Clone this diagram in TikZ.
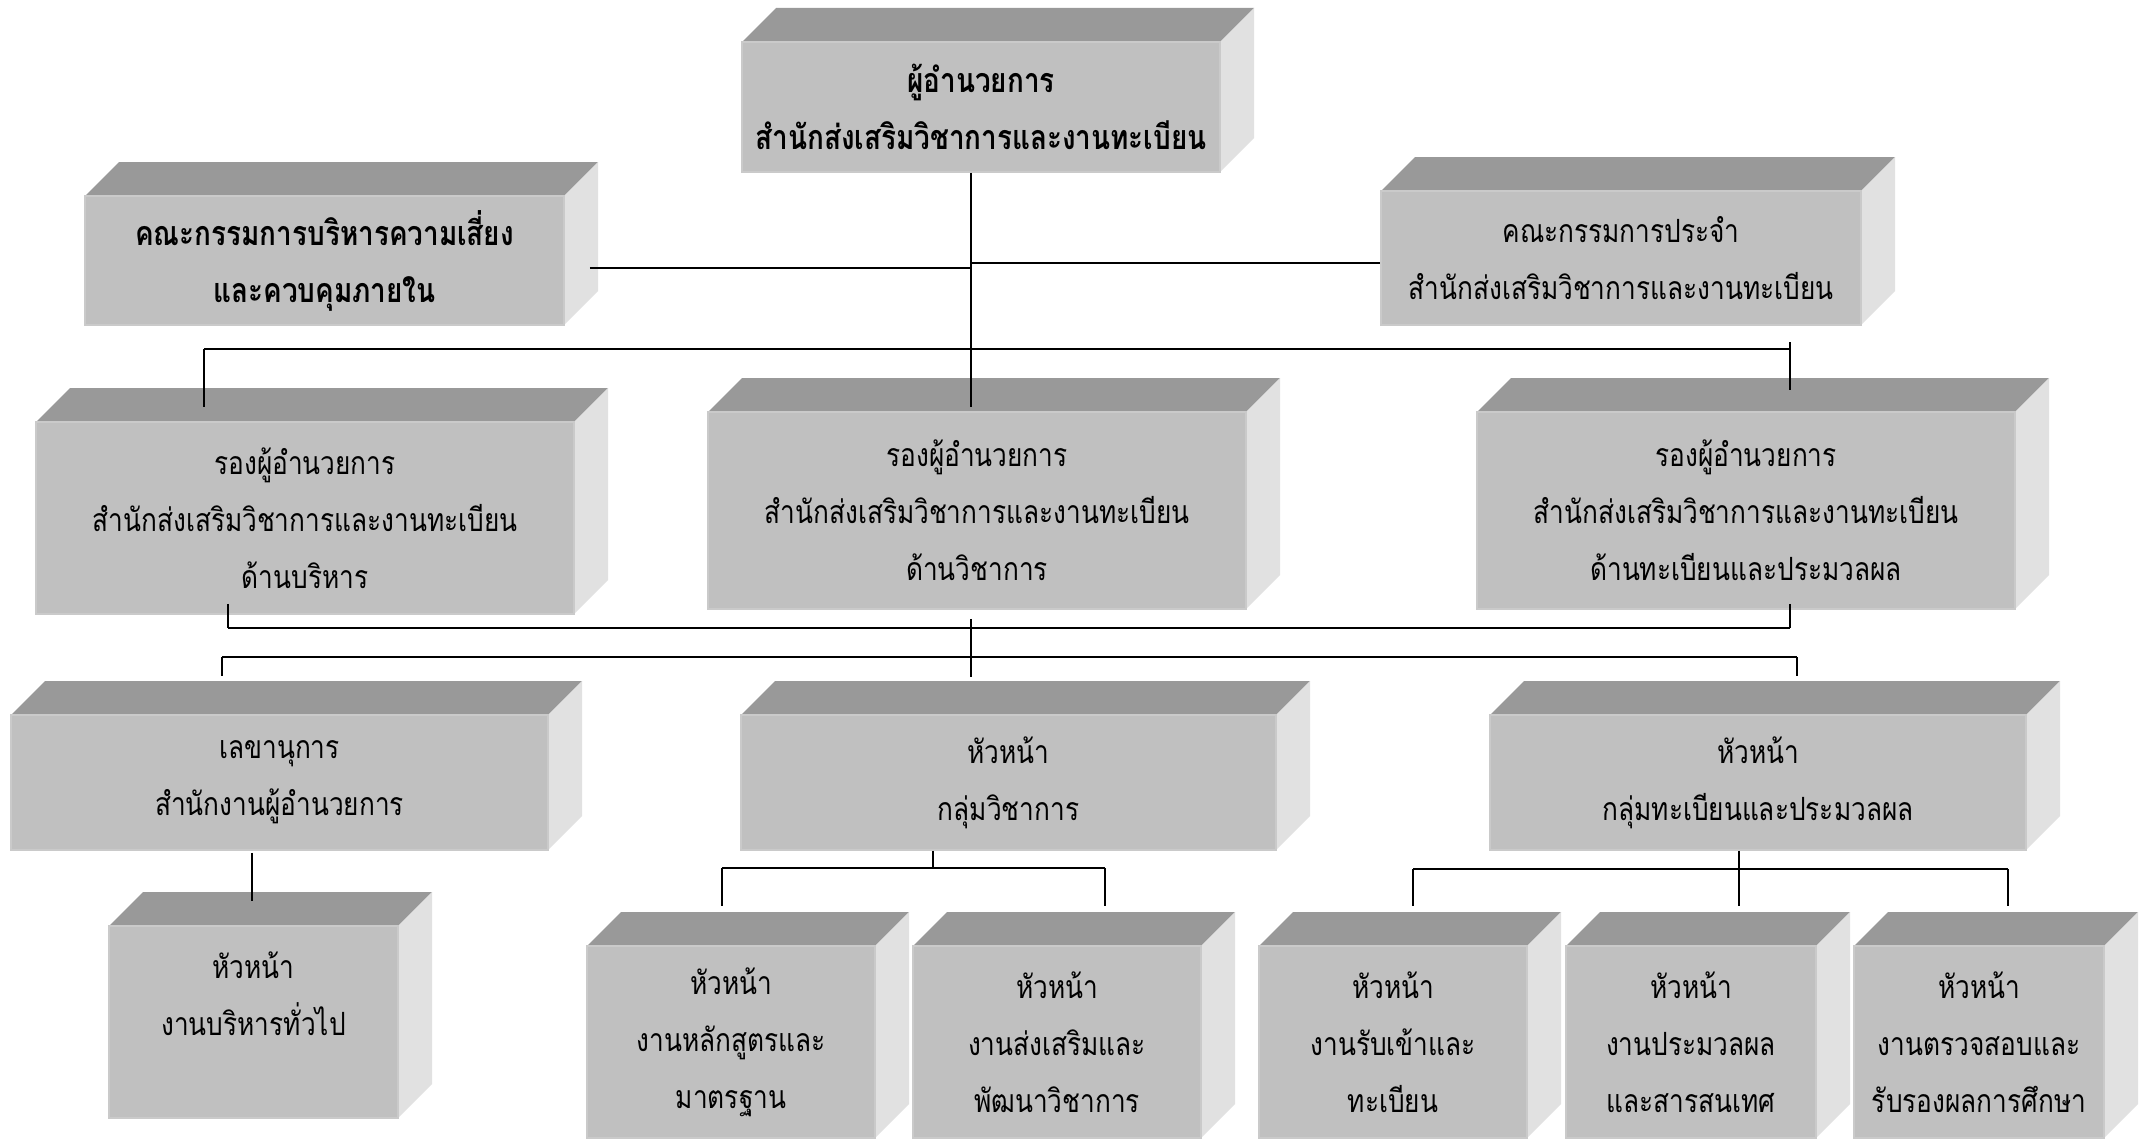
\documentclass[tikz,border=0pt]{standalone}
\usepackage{fontspec}
\newfontfamily\thai[Script=Thai,FakeStretch=0.82]{Loma}
\usetikzlibrary{calc}
\definecolor{topc}{HTML}{999999}
\definecolor{frontc}{HTML}{C0C0C0}
\definecolor{sidec}{HTML}{E1E1E1}
\definecolor{rimc}{HTML}{CACACA}
\newcommand\bd{\bfseries\fontsize{34}{57}\selectfont}
\tikzset{
  frontbox/.style={fill=frontc, draw=rimc, line width=1.5pt, inner sep=0pt, align=center,
    font=\thai\fontsize{32}{57}\selectfont},
  hline/.style={line width=2.6pt, black},
  vline/.style={line width=1.4pt, black},
}
\newcommand\cube[6]{%
  \fill[topc] (#2,#3) -- (#2+34,#3-34) -- (#4+34,#3-34) -- (#4,#3) -- cycle;
  \fill[sidec] (#4,#3) -- (#4+34,#3-34) -- (#4+34,#5-34) -- (#4,#5) -- cycle;
  \node[frontbox, minimum width={#4-#2}, minimum height={#5-#3}] (#1) at ({(#2+#4)/2},{(#3+#5)/2}) {#6};
}
\begin{document}
\begin{tikzpicture}[x=1pt,y=-1pt]
\useasboundingbox (0,0) rectangle (2139,1140);
\fill[white] (0,0) rectangle (2139,1140);
% boxes
\cube{dir}{742}{42}{1220}{172}{\bd ผู้อำนวยการ\\\bd สำนักส่งเสริมวิชาการและงานทะเบียน}
\cube{risk}{85}{196}{564}{325}{\bd คณะกรรมการบริหารความเสี่ยง\\\bd และควบคุมภายใน}
\cube{comm}{1381}{191}{1861}{325}{คณะกรรมการประจำ\\สำนักส่งเสริมวิชาการและงานทะเบียน}
\cube{dl}{36}{422}{574}{614}{รองผู้อำนวยการ\\สำนักส่งเสริมวิชาการและงานทะเบียน\\ด้านบริหาร}
\cube{dm}{708}{412}{1246}{609}{รองผู้อำนวยการ\\สำนักส่งเสริมวิชาการและงานทะเบียน\\ด้านวิชาการ}
\cube{dr}{1477}{412}{2015}{609}{รองผู้อำนวยการ\\สำนักส่งเสริมวิชาการและงานทะเบียน\\ด้านทะเบียนและประมวลผล}
\cube{sec}{11}{715}{548}{850}{เลขานุการ\\สำนักงานผู้อำนวยการ}
\cube{ha}{741}{715}{1276}{850}{หัวหน้า\\กลุ่มวิชาการ}
\cube{hr}{1490}{715}{2026}{850}{หัวหน้า\\กลุ่มทะเบียนและประมวลผล}
\cube{ga}{109}{926}{398}{1118}{หัวหน้า\\งานบริหารทั่วไป\\\mbox{}}
\cube{cur}{587}{946}{875}{1138}{หัวหน้า\\งานหลักสูตรและ\\มาตรฐาน}
\cube{pro}{913}{946}{1201}{1138}{หัวหน้า\\งานส่งเสริมและ\\พัฒนาวิชาการ}
\cube{adm}{1259}{946}{1527}{1138}{หัวหน้า\\งานรับเข้าและ\\ทะเบียน}
\cube{eva}{1566}{946}{1816}{1138}{หัวหน้า\\งานประมวลผล\\และสารสนเทศ}
\cube{ver}{1854}{946}{2104}{1138}{หัวหน้า\\งานตรวจสอบและ\\รับรองผลการศึกษา}
% junction coordinates
\coordinate (sp) at (971,0);
\coordinate (jr) at (971,268);
\coordinate (jc) at (971,263);
\coordinate (busA) at (971,349);
\coordinate (xL) at (204,0);
\coordinate (xR) at (1790,0);
\coordinate (busB) at (971,628);
\coordinate (xB1) at (228,0);
\coordinate (busC) at (971,657);
\coordinate (xC1) at (222,0);
\coordinate (xC2) at (1797,0);
\coordinate (xS) at (252,0);
\coordinate (xA) at (933,0);
\coordinate (busD) at (933,868);
\coordinate (xR0) at (1739,0);
\coordinate (busE) at (1739,869);
% connectors
\draw[vline] (dir.south -| sp) -- ($(dm.north -| sp)+(0,-4)$);
\draw[hline] ($(risk.east |- jr)+(25,0)$) -- (jr);
\draw[hline] (jc) -- (comm.west |- jc);
\draw[hline] (busA -| xL) -- (busA -| xR);
\draw[vline] (busA -| xL) -- ($(dl.north -| xL)+(0,-14)$);
\draw[vline] ($(busA -| xR)+(0,-7)$) -- ($(dr.north -| xR)+(0,-21)$);
\draw[vline] ($(dl.south -| xB1)+(0,-11)$) -- (busB -| xB1);
\draw[vline] ($(dr.south -| xR)+(0,-6)$) -- (busB -| xR);
\draw[hline] (busB -| xB1) -- (busB -| xR);
\draw[vline] ($(dm.south -| sp)+(0,9)$) -- ($(busC)+(0,20)$);
\draw[hline] (busC -| xC1) -- (busC -| xC2);
\draw[vline] (busC -| xC1) -- ($(sec.north -| xC1)+(0,-38)$);
\draw[vline] (busC -| xC2) -- ($(hr.north -| xC2)+(0,-38)$);
\draw[vline] ($(sec.south -| xS)+(0,2)$) -- ($(ga.north -| xS)+(0,-24)$);
\draw[vline] (ha.south -| xA) -- (busD);
\coordinate (d1) at ($(busD -| cur.north)+(-9,0)$);
\coordinate (d2) at ($(busD -| pro.north)+(48,0)$);
\draw[hline] (d1) -- (d2);
\draw[vline] (d1) -- ($(cur.north -| d1)+(0,-39)$);
\draw[vline] (d2) -- ($(pro.north -| d2)+(0,-39)$);
\draw[vline] (hr.south -| xR0) -- ($(eva.north -| xR0)+(0,-39)$);
\coordinate (e1) at ($(busE -| adm.north)+(20,0)$);
\coordinate (e2) at ($(busE -| ver.north)+(29,0)$);
\draw[hline] (e1) -- (e2);
\draw[vline] (e1) -- ($(adm.north -| e1)+(0,-39)$);
\draw[vline] (e2) -- ($(ver.north -| e2)+(0,-39)$);
\end{tikzpicture}
\end{document}
